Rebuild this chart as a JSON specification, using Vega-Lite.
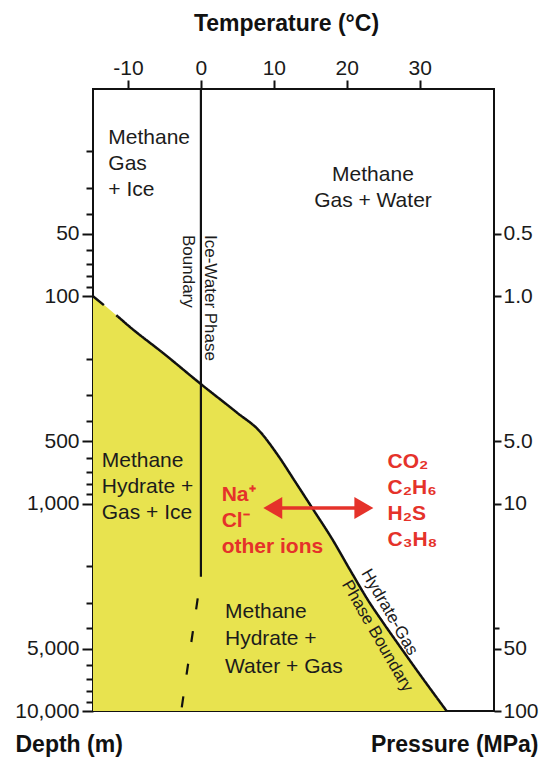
{
  "$schema": "https://vega.github.io/schema/vega-lite/v6.json",
  "width": 401,
  "height": 622,
  "autosize": {"type": "none"},
  "padding": {"left": 93, "top": 89, "right": 50, "bottom": 49},
  "background": "white",
  "datasets": {
    "hydrateGas": [
      {"temperature": -14.8, "depth": 100, "segment": "extrapolated"},
      {"temperature": -11.4, "depth": 125, "segment": "extrapolated"},
      {"temperature": -11.4, "depth": 125, "segment": "measured"},
      {"temperature": -10, "depth": 138, "segment": "measured"},
      {"temperature": -5, "depth": 190, "segment": "measured"},
      {"temperature": 0, "depth": 265, "segment": "measured"},
      {"temperature": 5, "depth": 365, "segment": "measured"},
      {"temperature": 8, "depth": 445, "segment": "measured"},
      {"temperature": 10.5, "depth": 580, "segment": "measured"},
      {"temperature": 13, "depth": 790, "segment": "measured"},
      {"temperature": 15.5, "depth": 1080, "segment": "measured"},
      {"temperature": 18, "depth": 1480, "segment": "measured"},
      {"temperature": 20.5, "depth": 2100, "segment": "measured"},
      {"temperature": 23, "depth": 2950, "segment": "measured"},
      {"temperature": 25, "depth": 3750, "segment": "measured"},
      {"temperature": 27.5, "depth": 5000, "segment": "measured"},
      {"temperature": 29.6, "depth": 6350, "segment": "measured"},
      {"temperature": 31.5, "depth": 7850, "segment": "measured"},
      {"temperature": 33.7, "depth": 10000, "segment": "measured"}
    ],
    "iceWater": [
      {"temperature": 0, "depth": 10, "segment": "solid"},
      {"temperature": 0, "depth": 2250, "segment": "solid"},
      {"temperature": 0, "depth": 2250, "segment": "dashed"},
      {"temperature": -2.7, "depth": 10000, "segment": "dashed"}
    ],
    "regionsLeft": [
      {"temperature": -12.7, "depth": 15.2, "label": "Methane\nGas\n+ Ice"},
      {"temperature": -13.6, "depth": 554, "label": "Methane\nHydrate +\nGas + Ice"}
    ],
    "regionsBottom": [
      {"temperature": 3.3, "depth": 2940, "label": "Methane\nHydrate +\nWater + Gas"}
    ],
    "regionsCentered": [
      {"temperature": 23.6, "depth": 22.9, "label": "Methane\nGas + Water"}
    ],
    "ions": [
      {"temperature": 2.85, "depth": 805, "label": "Na⁺\nCl⁻\nother ions"}
    ],
    "gases": [
      {"temperature": 25.6, "depth": 555, "label": "CO₂\nC₂H₆\nH₂S\nC₃H₈"}
    ],
    "iceWaterLabel": [
      {"temperature": 2.4, "depth": 50.6, "label": "Ice-Water Phase\nBoundary"}
    ],
    "hydrateGasLabel": [
      {"temperature": 23.5, "depth": 2010, "label": "Hydrate-Gas\nPhase Boundary"}
    ],
    "ionArrow": [
      {"from": 9.9, "to": 22.3, "depth": 1050}
    ],
    "ionArrowHeads": [
      {"temperature": 9.86, "depth": 1050, "direction": "left"},
      {"temperature": 22.35, "depth": 1050, "direction": "right"}
    ]
  },
  "layer": [
    {
      "data": {"name": "hydrateGas"},
      "mark": {"type": "area", "color": "#e8e34f", "opacity": 1, "interpolate": "monotone"},
      "encoding": {
        "x": {
          "field": "temperature", "type": "quantitative",
          "scale": {"domain": [-14.8, 40.2], "nice": false, "zero": false},
          "axis": {
            "orient": "top", "values": [-10, 0, 10, 20, 30],
            "labelExpr": "datum.value < 0 ? '-' + format(-datum.value, 'd') : format(datum.value, 'd')",
            "title": "Temperature (°C)", "titleFontSize": 23, "titleFontWeight": "bold",
            "titleX": 193, "titleY": -59, "titleAlign": "center", "titleBaseline": "alphabetic",
            "labelFontSize": 21, "labelPadding": 2, "labelFlush": false,
            "tickSize": 9, "tickWidth": 2
          }
        },
        "y": {
          "field": "depth", "type": "quantitative",
          "scale": {"type": "log", "domain": [10, 10000], "reverse": true, "nice": false},
          "axis": {
            "orient": "left", "values": [50, 100, 500, 1000, 5000, 10000], "format": ",",
            "title": "Depth (m)", "titleAngle": 0, "titleX": -78, "titleY": 662,
            "titleAlign": "left", "titleBaseline": "alphabetic",
            "titleFontSize": 23, "titleFontWeight": "bold",
            "labelFontSize": 21, "labelPadding": 3, "labelFlush": false, "labelOverlap": false,
            "tickSize": 11, "tickWidth": 2
          }
        },
        "y2": {"datum": 10000}
      }
    },
    {
      "data": {"name": "hydrateGas"},
      "mark": {"type": "line", "color": "#111111", "strokeWidth": 2.5, "interpolate": "monotone"},
      "encoding": {
        "x": {"field": "temperature", "type": "quantitative", "axis": null},
        "y": {
          "field": "depth", "type": "quantitative",
          "axis": {
            "orient": "left",
            "values": [20, 30, 40, 60, 70, 80, 90, 200, 300, 400, 600, 700, 800, 900, 2000, 3000, 4000, 6000, 7000, 8000, 9000],
            "labels": false, "title": null, "tickSize": 7, "tickWidth": 2
          }
        },
        "strokeDash": {
          "field": "segment", "type": "nominal",
          "scale": {"domain": ["extrapolated", "measured"], "range": [[14, 16], [1, 0]]},
          "legend": null
        }
      }
    },
    {
      "data": {"name": "iceWater"},
      "mark": {"type": "line", "color": "#111111", "strokeWidth": 2.2, "strokeDashOffset": 11},
      "encoding": {
        "x": {"field": "temperature", "type": "quantitative", "axis": null},
        "y": {
          "field": "depth", "type": "quantitative",
          "axis": {
            "orient": "right", "values": [50, 100, 500, 1000, 5000, 10000],
            "labelExpr": "datum.value < 1000 ? format(datum.value / 100, '.1f') : format(datum.value / 100, 'd')",
            "title": "Pressure (MPa)", "titleAngle": 0, "titleX": 44, "titleY": 662,
            "titleAlign": "right", "titleBaseline": "alphabetic",
            "titleFontSize": 23, "titleFontWeight": "bold",
            "labelFontSize": 21, "labelPadding": 2, "labelFlush": false, "labelOverlap": false,
            "tickSize": 7, "tickWidth": 2
          }
        },
        "order": {"field": "depth", "type": "quantitative"},
        "strokeDash": {
          "field": "segment", "type": "nominal",
          "scale": {"domain": ["solid", "dashed"], "range": [[1, 0], [11, 22]]},
          "legend": null
        }
      }
    },
    {
      "data": {"name": "ionArrow"},
      "mark": {"type": "rule", "color": "#e5322a", "strokeWidth": 3.5},
      "encoding": {
        "x": {"field": "from", "type": "quantitative", "axis": null},
        "x2": {"field": "to"},
        "y": {
          "field": "depth", "type": "quantitative",
          "axis": {"orient": "right", "values": [4000], "labels": false, "title": null, "tickSize": 5, "tickWidth": 2}
        }
      }
    },
    {
      "data": {"name": "ionArrowHeads"},
      "mark": {"type": "point", "filled": true, "size": 480, "color": "#e5322a", "opacity": 1},
      "encoding": {
        "x": {"field": "temperature", "type": "quantitative", "axis": null},
        "y": {"field": "depth", "type": "quantitative", "axis": null},
        "shape": {
          "field": "direction", "type": "nominal",
          "scale": {"domain": ["left", "right"], "range": ["triangle-left", "triangle-right"]},
          "legend": null
        }
      }
    },
    {
      "data": {"name": "regionsLeft"},
      "mark": {"type": "text", "align": "left", "baseline": "top", "fontSize": 21, "lineHeight": 26, "lineBreak": "\n", "color": "#1c1c1c"},
      "encoding": {
        "x": {"field": "temperature", "type": "quantitative", "axis": null},
        "y": {"field": "depth", "type": "quantitative", "axis": null},
        "text": {"field": "label"}
      }
    },
    {
      "data": {"name": "regionsBottom"},
      "mark": {"type": "text", "align": "left", "baseline": "top", "fontSize": 21, "lineHeight": 27.5, "lineBreak": "\n", "color": "#1c1c1c"},
      "encoding": {
        "x": {"field": "temperature", "type": "quantitative", "axis": null},
        "y": {"field": "depth", "type": "quantitative", "axis": null},
        "text": {"field": "label"}
      }
    },
    {
      "data": {"name": "regionsCentered"},
      "mark": {"type": "text", "align": "center", "baseline": "top", "fontSize": 21, "lineHeight": 26, "lineBreak": "\n", "color": "#1c1c1c"},
      "encoding": {
        "x": {"field": "temperature", "type": "quantitative", "axis": null},
        "y": {"field": "depth", "type": "quantitative", "axis": null},
        "text": {"field": "label"}
      }
    },
    {
      "data": {"name": "ions"},
      "mark": {"type": "text", "align": "left", "baseline": "top", "fontSize": 21, "fontWeight": "bold", "lineHeight": 26, "lineBreak": "\n", "color": "#e5322a"},
      "encoding": {
        "x": {"field": "temperature", "type": "quantitative", "axis": null},
        "y": {"field": "depth", "type": "quantitative", "axis": null},
        "text": {"field": "label"}
      }
    },
    {
      "data": {"name": "gases"},
      "mark": {"type": "text", "align": "left", "baseline": "top", "fontSize": 21, "fontWeight": "bold", "lineHeight": 26, "lineBreak": "\n", "color": "#e5322a"},
      "encoding": {
        "x": {"field": "temperature", "type": "quantitative", "axis": null},
        "y": {"field": "depth", "type": "quantitative", "axis": null},
        "text": {"field": "label"}
      }
    },
    {
      "data": {"name": "iceWaterLabel"},
      "mark": {"type": "text", "align": "left", "baseline": "top", "angle": 90, "fontSize": 17, "lineHeight": 22, "lineBreak": "\n", "color": "#1c1c1c"},
      "encoding": {
        "x": {"field": "temperature", "type": "quantitative", "axis": null},
        "y": {"field": "depth", "type": "quantitative", "axis": null},
        "text": {"field": "label"}
      }
    },
    {
      "data": {"name": "hydrateGasLabel"},
      "mark": {"type": "text", "align": "left", "baseline": "top", "angle": 60, "fontSize": 17, "lineHeight": 22.5, "lineBreak": "\n", "color": "#1c1c1c"},
      "encoding": {
        "x": {"field": "temperature", "type": "quantitative", "axis": null},
        "y": {"field": "depth", "type": "quantitative", "axis": null},
        "text": {"field": "label"}
      }
    }
  ],
  "resolve": {
    "axis": {"x": "independent", "y": "independent"},
    "scale": {"strokeDash": "independent"}
  },
  "config": {
    "font": "Liberation Sans",
    "view": {"stroke": "#111111", "strokeWidth": 2},
    "axis": {
      "grid": false, "domain": false,
      "labelColor": "#1a1a1a", "titleColor": "#111111", "tickColor": "#111111",
      "labelFont": "Liberation Sans", "titleFont": "Liberation Sans"
    }
  }
}
